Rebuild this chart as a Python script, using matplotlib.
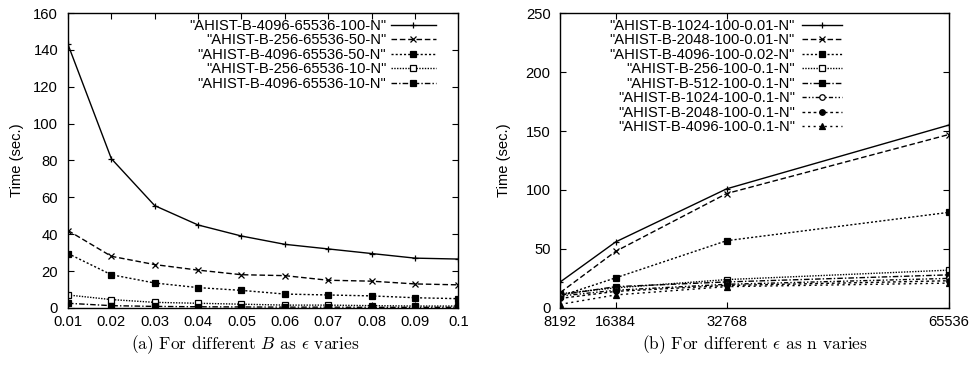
import numpy as np
import matplotlib
matplotlib.use("Agg")
import matplotlib.pyplot as plt

plt.rcParams['font.family'] = ['Liberation Sans', 'DejaVu Sans']
plt.rcParams['mathtext.fontset'] = 'cm'
plt.rcParams['axes.unicode_minus'] = False

# panel (a): time vs epsilon for different B
eps = [0.01, 0.02, 0.03, 0.04, 0.05, 0.06, 0.07, 0.08, 0.09, 0.1]
eps_ticks = ['0.01', '0.02', '0.03', '0.04', '0.05', '0.06', '0.07',
             '0.08', '0.09', '0.1']
labels_a = ['"AHIST-B-4096-65536-100-N"', '"AHIST-B-256-65536-50-N"',
            '"AHIST-B-4096-65536-50-N"', '"AHIST-B-256-65536-10-N"',
            '"AHIST-B-4096-65536-10-N"']
b4096_100 = [143, 81, 55.5, 45, 39, 34.5, 32, 29.5, 27, 26.5]
b256_50 = [42, 28, 23.5, 20.5, 18, 17.5, 15, 14.5, 13, 12.5]
b4096_50 = [29.5, 18, 13.5, 11, 9.5, 7.5, 7, 6.5, 5.5, 5]
b256_10 = [7, 4.5, 3, 2.5, 2, 1.5, 1.5, 1.2, 1, 1]
b4096_10 = [2.5, 1.2, 0.8, 0.6, 0.5, 0.4, 0.4, 0.3, 0.3, 0.3]
series_a = [b4096_100, b256_50, b4096_50, b256_10, b4096_10]

# panel (b): time vs n for different epsilon
n_vals = [8192, 16384, 32768, 65536]
labels_b = ['"AHIST-B-1024-100-0.01-N"', '"AHIST-B-2048-100-0.01-N"',
            '"AHIST-B-4096-100-0.02-N"', '"AHIST-B-256-100-0.1-N"',
            '"AHIST-B-512-100-0.1-N"', '"AHIST-B-1024-100-0.1-N"',
            '"AHIST-B-2048-100-0.1-N"', '"AHIST-B-4096-100-0.1-N"']
e1024_001 = [22, 56, 101, 155]
e2048_001 = [13, 48, 97, 147]
e4096_002 = [10, 25.5, 57, 81]
e256_01 = [12, 17, 24, 32]
e512_01 = [11, 18, 22, 28]
e1024_01 = [10, 15, 20, 25]
e2048_01 = [8, 14, 19, 23]
e4096_01 = [3, 11, 18, 21]
series_b = [e1024_001, e2048_001, e4096_002, e256_01, e512_01, e1024_01,
            e2048_01, e4096_01]

# gnuplot-like line styles
styles = [
    dict(ls='-', marker='+', mfc='black'),
    dict(ls=(0, (4, 2)), marker='x', mfc='black'),
    dict(ls=(0, (1.5, 1.5)), marker='s', mfc='black'),
    dict(ls=(0, (1, 1)), marker='s', mfc='white'),
    dict(ls=(0, (4, 1.5, 1, 1.5)), marker='s', mfc='black'),
    dict(ls=(0, (3, 1.5, 1, 1.5, 1, 1.5)), marker='o', mfc='white'),
    dict(ls=(0, (2, 2)), marker='o', mfc='black'),
    dict(ls=(0, (1.5, 2.5)), marker='^', mfc='black'),
]

FS = 10.6


def _style_axis(ax, label_x):
    for sp in ax.spines.values():
        sp.set_linewidth(1.0)
    ax.tick_params(direction='in', top=True, right=True, labelsize=FS,
                   length=4, width=0.8)
    ax.tick_params(axis='y', pad=7)
    ax.tick_params(axis='x', pad=5)
    ax.set_ylabel('Time (sec.)', fontsize=FS)
    ax.yaxis.set_label_coords(label_x, 0.5)


fig = plt.figure(figsize=(9.71, 3.75), dpi=100)
ax1 = fig.add_axes([0.070, 0.179, 0.402, 0.786])
ax2 = fig.add_axes([0.577, 0.179, 0.400, 0.786])

for ys, lab, st in zip(series_a, labels_a, styles):
    ax1.plot(eps, ys, color='black', lw=1.0, markersize=4, mew=0.9,
             mec='black', label=lab, **st)
ax1.set_xlim(0.01, 0.1)
ax1.set_ylim(0, 160)
ax1.set_xticks(eps)
ax1.set_xticklabels(eps_ticks)
ax1.set_yticks(np.arange(0, 161, 20))
_style_axis(ax1, -0.113)
ax1.legend(loc='upper right', frameon=False, markerfirst=False, fontsize=FS,
           handlelength=3.05, labelspacing=0.03, handletextpad=0.3,
           borderaxespad=0.0, bbox_to_anchor=(0.957, 1.0))

for ys, lab, st in zip(series_b, labels_b, styles):
    ax2.plot(n_vals, ys, color='black', lw=1.0, markersize=4, mew=0.9,
             mec='black', label=lab, **st)
ax2.set_xlim(8192, 65536)
ax2.set_ylim(0, 250)
ax2.set_xticks(n_vals)
ax2.set_yticks(np.arange(0, 251, 50))
_style_axis(ax2, -0.126)
ax2.legend(loc='upper right', frameon=False, markerfirst=False, fontsize=FS,
           handlelength=2.7, labelspacing=0.03, handletextpad=0.5,
           borderaxespad=0.0, bbox_to_anchor=(0.7405, 1.0))

fig.text(0.252, 0.08, r'(a) For different $B$ as $\epsilon$ varies',
         ha='center', va='center', fontsize=12.5, family='cmr10',
         math_fontfamily='cm')
fig.text(0.777, 0.08, r'(b) For different $\epsilon$ as n varies',
         ha='center', va='center', fontsize=12.5, family='cmr10',
         math_fontfamily='cm')

fig.savefig('out.png', dpi=100)
